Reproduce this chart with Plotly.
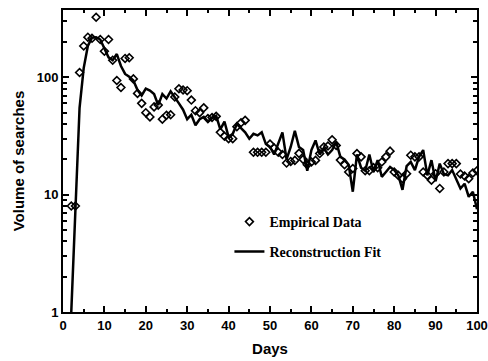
import plotly.graph_objects as go

# Empirical data (days, volume)
emp_days = [2, 3, 4, 5, 6, 7, 8, 9, 10, 11, 12, 13, 14, 15, 16, 17, 18, 19, 20,
            21, 22, 23, 24, 25, 26, 27, 28, 29, 30, 31, 32, 33, 34, 35, 36, 37, 38, 39, 40,
            41, 42, 43, 44, 46, 47, 48, 49, 50, 51, 52, 53, 54, 55, 56, 57, 58, 59, 60,
            61, 62, 63, 64, 65, 66, 67, 68, 69, 70, 71, 72, 73, 74, 75, 76, 77, 78, 79, 80,
            81, 82, 83, 84, 85, 86, 87, 88, 89, 90, 91, 92, 93, 94, 95, 96, 97, 98, 99, 100]
emp_vals = [8, 8, 110, 185, 220, 215, 325, 210, 167, 210, 140, 94, 82, 145, 147, 97, 73, 60, 50,
            46, 56, 58, 44, 47.5, 48, 68, 80, 78, 77, 64, 52, 50, 55, 44.5, 45.5, 46.5, 34, 31.5, 30,
            30, 38, 41, 43, 23, 23, 23, 23, 27, 25, 23, 22, 18.6, 19.2, 19.6, 22.5, 20, 18, 19,
            19.6, 22.4, 25.5, 26, 29.4, 26.3, 19.7, 18, 15.6, 16.7, 22.4, 21, 16, 16, 17, 17, 19, 21, 23.5, 15.6,
            14.6, 13.7, 15.1, 21.7, 21, 21, 15.6, 14.6, 13.3, 15.1, 11.3, 15.6, 18.4, 18.4, 18.4, 15, 14.4, 13.7, 15.3, 16]

# Reconstruction fit (days 2..100)
fit_days = list(range(2, 101))
fit_vals = [1.0, 9, 55, 120, 185, 218, 220, 210, 175, 148, 140, 158, 125, 107, 101, 94, 78, 70, 80,
            77, 72, 58, 72, 66, 76, 68, 60, 53, 44, 48, 39, 44, 46, 42, 45, 47, 36, 42, 31,
            33, 40, 37, 34, 30, 33, 32, 34, 27, 25.5, 22, 27, 34, 20, 25.5, 35, 25.5, 24, 16, 24,
            29, 22, 25, 22, 24, 28, 21, 20, 18, 10.6, 22, 17, 16, 22, 15.6, 19.7, 14.2, 15.6, 17.2, 16.2,
            14.6, 11, 17.5, 19, 16.2, 21, 24, 14.6, 19.7, 13, 18.4, 15, 14.6, 16.2, 13.3, 11.3, 12.4, 9.6, 10.6, 7.5]

x_ticks = [0, 10, 20, 30, 40, 50, 60, 70, 80, 90, 100]
y_ticks = [1, 10, 100]
y_minor = [2, 3, 4, 5, 6, 7, 8, 9, 20, 30, 40, 50, 60, 70, 80, 90, 200, 300]

fig = go.Figure()
fig.add_trace(go.Scatter(
    x=emp_days, y=emp_vals, mode="markers", name="Empirical Data",
    marker=dict(symbol="diamond-open", size=6, color="black", line=dict(width=1.6, color="black")),
    legend="legend",
))
fig.add_trace(go.Scatter(
    x=fit_days, y=fit_vals, mode="lines", name="Reconstruction Fit",
    line=dict(color="black", width=2.5),
    legend="legend2",
))

tickfont = dict(family="Liberation Sans, Arial", size=13, color="black", weight="bold")
legfont = dict(family="Liberation Serif, Times New Roman", size=14, color="black", weight="bold")

fig.update_layout(
    width=488, height=361,
    margin=dict(l=63, r=11, t=10, b=49, autoexpand=False),
    paper_bgcolor="white", plot_bgcolor="white",
    showlegend=True,
    legend=dict(x=0.402, y=0.298, xanchor="left", yanchor="middle", font=legfont,
                bgcolor="rgba(0,0,0,0)"),
    legend2=dict(x=0.402, y=0.199, xanchor="left", yanchor="middle", font=legfont,
                 bgcolor="rgba(0,0,0,0)"),
    xaxis=dict(
        range=[0, 100], tickvals=x_ticks, ticks="inside", ticklen=6, tickwidth=1.5,
        tickcolor="black", showline=True, linecolor="black", linewidth=2, mirror="allticks",
        showgrid=False, zeroline=False, tickfont=tickfont, automargin=False,
        minor=dict(dtick=5, tick0=0, ticks="inside", ticklen=3, tickwidth=1.5, tickcolor="black", showgrid=False),
        title=dict(text="<b>Days</b>", font=dict(family="Liberation Sans, Arial", size=15, color="black"), standoff=12),
    ),
    yaxis=dict(
        type="log", range=[0, 2.574], tickvals=y_ticks, ticktext=["1", "10", "100"],
        ticks="inside", ticklen=6, tickwidth=1.5, tickcolor="black",
        showline=True, linecolor="black", linewidth=2, mirror="allticks",
        showgrid=False, zeroline=False, tickfont=tickfont, automargin=False,
        minor=dict(tickvals=y_minor, ticks="inside", ticklen=4, tickwidth=1.5, tickcolor="black", showgrid=False),
        title=dict(text="<b>Volume of searches</b>", font=dict(family="Liberation Sans, Arial", size=15, color="black"), standoff=8),
    ),
)

fig.write_html("out.html")
